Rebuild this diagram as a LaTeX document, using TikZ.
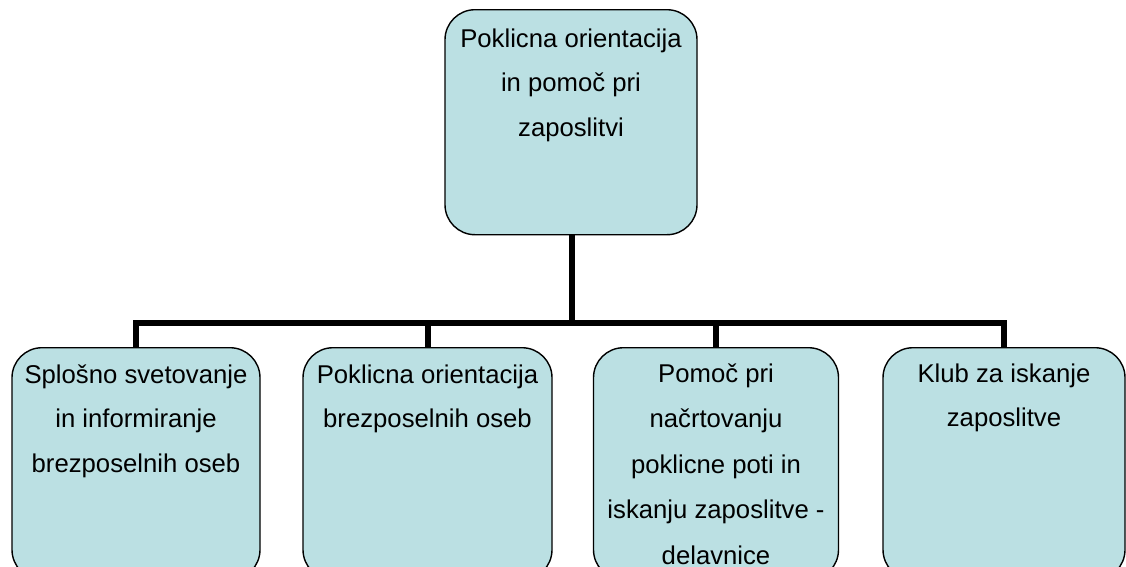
\documentclass[tikz,border=0pt]{standalone}
\usepackage{fontspec}
\setmainfont{Liberation Sans}
\definecolor{boxfill}{RGB}{187,224,227}
\tikzset{
  box/.style={draw=black, line width=1.4pt, fill=boxfill, rounded corners=30pt, inner sep=0pt, anchor=north},
  conn/.style={draw=black, line width=6pt, line join=miter},
  txt/.style={anchor=base, inner sep=0pt, font=\fontsize{25.7}{44.5}\selectfont}
}
\begin{document}
\begin{tikzpicture}[x=1pt,y=-1pt]
\useasboundingbox (0,0) rectangle (1126,566);
\clip (0,0) rectangle (1126,566);
\fill[white] (0,0) rectangle (1126,566);
% boxes
\node[box, minimum width=252pt, minimum height=225pt] (top) at (571,9) {};
\node[box, minimum width=248pt, minimum height=232pt] (b1) at (136,347) {};
\node[box, minimum width=249pt, minimum height=232pt] (b2) at (427.5,347) {};
\node[box, minimum width=245pt, minimum height=232pt] (b3) at (716,347) {};
\node[box, minimum width=242pt, minimum height=232pt] (b4) at (1004,347) {};
% texts
\node[txt] (ttop) at (571,47) {\parbox[t]{250pt}{\centering Poklicna orientacija\\in pomoč pri\\zaposlitvi}};
\node[txt] (t1) at (136,383) {\parbox[t]{246pt}{\centering Splošno svetovanje\\in informiranje\\brezposelnih oseb}};
\node[txt] (t2) at (427.5,383) {\parbox[t]{246pt}{\centering Poklicna orientacija\\brezposelnih oseb}};
\node[txt] (t3) at (716,382) {\parbox[t]{244pt}{\fontsize{25.7}{45.6}\selectfont\centering Pomoč pri\\načrtovanju\\poklicne poti in\\iskanju zaposlitve -\\delavnice}};
\node[txt] (t4) at (1004,382) {\parbox[t]{240pt}{\centering Klub za iskanje\\zaposlitve}};
% connectors
\coordinate (j) at (572,323);
\draw[conn] (top.south -| j) -- (j);
\draw[conn] (b1.north) |- (j) -| (b4.north);
\draw[conn] (b2.north) -- (b2.north |- j);
\draw[conn] (b3.north) -- (b3.north |- j);
\end{tikzpicture}
\end{document}
